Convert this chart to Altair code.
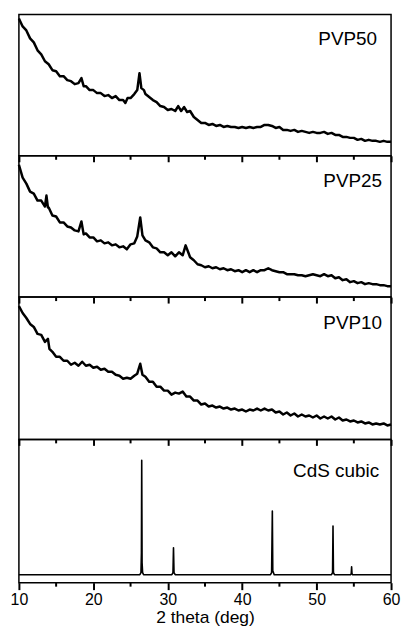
import altair as alt
import pandas as pd

FONT = "Liberation Sans"

# ---------------- data (intensity in arbitrary units) ----------------
pvp50_x = [10.0, 10.5, 11.0, 11.5, 12.0, 12.5, 13.0, 13.5, 14.0, 14.5, 15.0, 15.5, 16.0, 16.5,
           17.0, 17.5, 18.0, 18.4, 18.7, 19.0, 19.5, 20.0, 20.5, 21.0, 21.5, 22.0, 22.5, 23.0,
           23.5, 24.0, 24.3, 24.6, 25.0, 25.5, 25.9, 26.2, 26.45, 26.8, 27.0, 27.5, 28.0, 28.5,
           29.0, 29.5, 30.0, 30.5, 31.0, 31.4, 31.8, 32.2, 32.6, 33.0, 33.5, 34.0, 34.5, 35.0,
           35.5, 36.0, 36.5, 37.0, 37.5, 38.0, 38.5, 39.0, 39.5, 40.0, 40.5, 41.0, 41.5, 42.0,
           42.5, 43.0, 43.5, 44.0, 44.5, 45.0, 45.5, 46.0, 46.5, 47.0, 47.5, 48.0, 48.5, 49.0,
           49.5, 50.0, 50.5, 51.0, 51.5, 52.0, 52.5, 53.0, 53.5, 54.0, 54.5, 55.0, 55.5, 56.0,
           56.5, 57.0, 57.5, 58.0, 58.5, 59.0, 59.5, 60.0]
pvp50_y = [138, 130, 126, 118, 114, 106, 102, 95, 92, 86, 85, 80, 80, 76,
           75, 72, 73, 78, 70, 70, 66, 66, 63, 63, 60, 61, 58, 60,
           56, 56, 53, 58, 58, 62, 66, 83, 68, 66, 62, 59, 56, 54,
           50, 49, 46, 47, 45, 50, 45, 49, 44, 45, 39, 36, 33, 33,
           31, 32, 30, 31, 29, 30, 29, 29, 28, 29, 28, 29, 28, 29,
           29, 31, 31, 30, 28, 29, 26, 26, 25, 26, 24, 25, 24, 23,
           24, 23, 23, 24, 22, 23, 21, 21, 19, 19, 18, 18, 16, 17,
           15, 16, 15, 15, 14, 15, 14, 14]

pvp25_x = [10.0, 10.5, 11.0, 11.5, 12.0, 12.5, 13.0, 13.5, 13.7, 13.9, 14.0, 14.5, 15.0, 15.5,
           16.0, 16.5, 17.0, 17.5, 18.0, 18.4, 18.7, 19.0, 19.5, 20.0, 20.5, 21.0, 21.5, 22.0,
           22.5, 23.0, 23.5, 24.0, 24.5, 25.0, 25.5, 25.9, 26.3, 26.6, 27.0, 27.5, 28.0, 28.5,
           29.0, 29.5, 30.0, 30.5, 31.0, 31.5, 32.0, 32.4, 32.8, 33.0, 33.5, 34.0, 34.5, 35.0,
           35.5, 36.0, 36.5, 37.0, 37.5, 38.0, 38.5, 39.0, 39.5, 40.0, 40.5, 41.0, 41.5, 42.0,
           42.5, 43.0, 43.5, 44.0, 44.5, 45.0, 45.5, 46.0, 46.5, 47.0, 47.5, 48.0, 48.5, 49.0,
           49.5, 50.0, 50.5, 51.0, 51.5, 52.0, 52.5, 53.0, 53.5, 54.0, 54.5, 55.0, 55.5, 56.0,
           56.5, 57.0, 57.5, 58.0, 58.5, 59.0, 59.5, 60.0]
pvp25_y = [133, 120, 114, 106, 104, 97, 97, 91, 102, 90, 90, 82, 81, 75,
           75, 71, 70, 67, 66, 76, 63, 64, 60, 60, 56, 57, 54, 55,
           52, 53, 50, 51, 48, 53, 54, 61, 80, 62, 57, 55, 50, 49,
           45, 45, 42, 45, 41, 45, 42, 52, 44, 40, 37, 33, 32, 30,
           31, 29, 30, 28, 29, 27, 28, 26, 27, 25, 27, 25, 27, 25,
           27, 27, 29, 27, 26, 25, 25, 23, 23, 23, 22, 22, 21, 22,
           23, 22, 21, 23, 21, 22, 19, 20, 17, 18, 15, 16, 14, 15,
           13, 14, 13, 13, 12, 12, 11, 11]

pvp10_x = [10.0, 10.5, 11.0, 11.5, 12.0, 12.5, 13.0, 13.5, 13.9, 14.1, 14.5, 15.0, 15.5, 16.0,
           16.5, 17.0, 17.5, 18.0, 18.5, 19.0, 19.5, 20.0, 20.5, 21.0, 21.5, 22.0, 22.5, 23.0,
           23.5, 24.0, 24.5, 25.0, 25.5, 25.9, 26.3, 26.6, 27.0, 27.5, 28.0, 28.5, 29.0, 29.5,
           30.0, 30.5, 31.0, 31.5, 32.0, 32.5, 33.0, 33.5, 34.0, 34.5, 35.0, 35.5, 36.0, 36.5,
           37.0, 37.5, 38.0, 38.5, 39.0, 39.5, 40.0, 40.5, 41.0, 41.5, 42.0, 42.5, 43.0, 43.5,
           44.0, 44.5, 45.0, 45.5, 46.0, 46.5, 47.0, 47.5, 48.0, 48.5, 49.0, 49.5, 50.0, 50.5,
           51.0, 51.5, 52.0, 52.5, 53.0, 53.5, 54.0, 54.5, 55.0, 55.5, 56.0, 56.5, 57.0, 57.5,
           58.0, 58.5, 59.0, 59.5, 60.0]
pvp10_y = [134, 127, 122, 116, 113, 106, 105, 98, 101, 91, 88, 83, 83, 79,
           79, 75, 77, 74, 78, 74, 75, 72, 73, 70, 71, 68, 68, 65,
           64, 61, 62, 61, 64, 66, 76, 65, 63, 58, 58, 53, 53, 49,
           49, 45, 47, 46, 48, 43, 43, 39, 39, 35, 36, 33, 34, 32,
           33, 31, 32, 30, 31, 29, 30, 28, 30, 29, 31, 29, 31, 29,
           30, 27, 28, 25, 27, 24, 26, 23, 25, 23, 24, 22, 24, 21,
           23, 21, 23, 20, 22, 19, 20, 18, 19, 17, 18, 16, 17, 15,
           16, 15, 16, 14, 15]

cds_x = [10.0, 26.25, 26.4, 26.46, 26.5, 26.55, 26.62, 26.75, 30.55, 30.7, 30.77, 30.84, 31.0,
         43.8, 43.95, 44.0, 44.05, 44.11, 44.3, 52.0, 52.14, 52.2, 52.26, 52.4,
         54.55, 54.65, 54.7, 54.75, 54.85, 60.0]
cds_y = [8, 8, 10, 30, 123, 20, 10, 8, 8, 10, 35, 10, 8,
         8, 10, 40, 72, 12, 8, 8, 10, 57, 10, 8,
         8, 9, 16, 9, 8, 8]

labels = ["PVP50", "PVP25", "PVP10", "CdS cubic"]
major_ticks = [10, 20, 30, 40, 50, 60]
minor_ticks = [15, 25, 35, 45, 55]

# ---------------- panels ----------------
W = 374
heights = [142, 142, 143, 144]
text_pos = [(360, 31), (365, 31), (365, 32), (362, 38)]
series = [(pvp50_x, pvp50_y, 2.5), (pvp25_x, pvp25_y, 2.5), (pvp10_x, pvp10_y, 2.5), (cds_x, cds_y, 1.6)]

xscale = alt.Scale(domain=[10, 60], nice=False, zero=False)


def panel(i):
    xs, ys, sw = series[i]
    h = heights[i]
    bottom = i == len(series) - 1
    df = pd.DataFrame({"x": xs, "y": ys})
    if bottom:
        axis = alt.Axis(values=major_ticks, title="2 theta (deg)", domain=False, grid=False,
                        ticks=True, tickSize=7, tickColor="black", tickWidth=2,
                        labelFlush=False,
                        labelFont=FONT, labelFontSize=16, labelColor="black", labelPadding=2,
                        titleFont=FONT, titleFontSize=17.5, titleFontWeight="normal",
                        titleColor="black", titlePadding=1)
    else:
        axis = alt.Axis(values=major_ticks, title=None, labels=False, domain=False, grid=False,
                        ticks=True, tickSize=6, tickColor="black", tickWidth=2)
    line = alt.Chart(df).mark_line(color="black", strokeWidth=sw, strokeJoin="round").encode(
        x=alt.X("x:Q", scale=xscale, axis=axis),
        y=alt.Y("y:Q", scale=alt.Scale(domain=[0, h], nice=False, zero=False), axis=None),
    )
    minor = alt.Chart(pd.DataFrame({"m": minor_ticks})).mark_rule(
        color="black", strokeWidth=2, clip=False
    ).encode(
        x=alt.X("m:Q", scale=xscale),
        y=alt.value(h),
        y2=alt.value(h + 4),
    )
    tx, ty = text_pos[i]
    txt = alt.Chart(pd.DataFrame({"t": [labels[i]]})).mark_text(
        align="right", baseline="alphabetic", font=FONT, fontSize=19, color="black"
    ).encode(x=alt.value(tx), y=alt.value(ty), text="t:N")
    return alt.layer(line, minor, txt).properties(width=W, height=h)


chart = alt.vconcat(*[panel(i) for i in range(4)], spacing=0, bounds="flush").properties(
    padding={"left": 9, "top": 12, "right": 2, "bottom": 0},
    background="white",
).configure_view(
    stroke="black", strokeWidth=1.5
)

chart.save("out.html", embed_options={"renderer": "svg", "actions": False})
